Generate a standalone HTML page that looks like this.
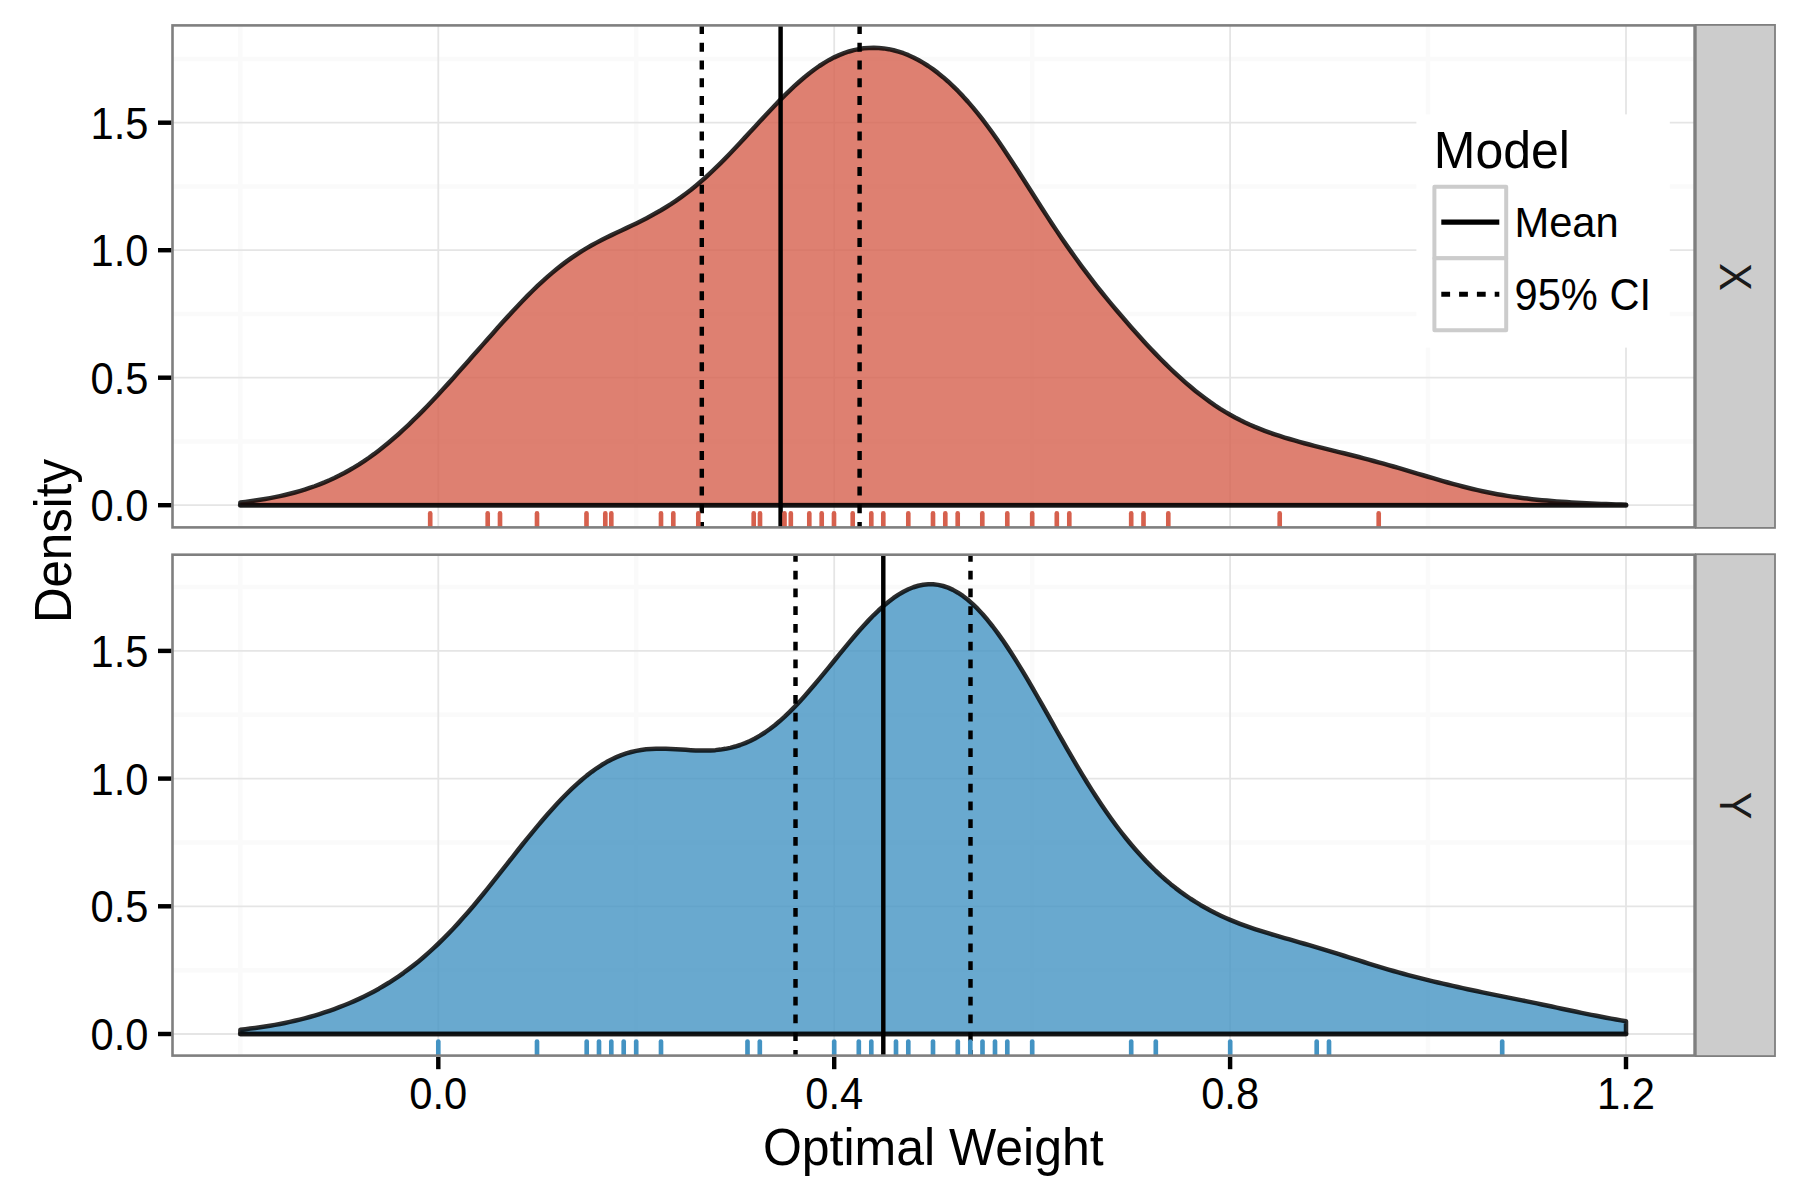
<!DOCTYPE html>
<html lang="en"><head><meta charset="utf-8"><title>Optimal Weight Density</title>
<style>html,body{margin:0;padding:0;background:#fff}svg{display:block}text{font-family:"Liberation Sans",Arial,Helvetica,sans-serif;fill:#000}</style></head><body>
<svg width="1800" height="1200" viewBox="0 0 1800 1200">
<rect width="1800" height="1200" fill="#fff"/>
<g>
<clipPath id="cp1"><rect x="172.5" y="25.4" width="1522.1" height="502"/></clipPath>
<g clip-path="url(#cp1)">
<line x1="172.5" x2="1694.6" y1="441.45" y2="441.45" stroke="#fafafa" stroke-width="4.45"/>
<line x1="172.5" x2="1694.6" y1="313.95" y2="313.95" stroke="#fafafa" stroke-width="4.45"/>
<line x1="172.5" x2="1694.6" y1="186.45" y2="186.45" stroke="#fafafa" stroke-width="4.45"/>
<line x1="172.5" x2="1694.6" y1="58.95" y2="58.95" stroke="#fafafa" stroke-width="4.45"/>
<line x1="240.35" x2="240.35" y1="25.4" y2="527.4" stroke="#fafafa" stroke-width="4.45"/>
<line x1="636.25" x2="636.25" y1="25.4" y2="527.4" stroke="#fafafa" stroke-width="4.45"/>
<line x1="1032.15" x2="1032.15" y1="25.4" y2="527.4" stroke="#fafafa" stroke-width="4.45"/>
<line x1="1428.05" x2="1428.05" y1="25.4" y2="527.4" stroke="#fafafa" stroke-width="4.45"/>
<line x1="172.5" x2="1694.6" y1="505.2" y2="505.2" stroke="#e5e5e5" stroke-width="1.8"/>
<line x1="172.5" x2="1694.6" y1="377.7" y2="377.7" stroke="#e5e5e5" stroke-width="1.8"/>
<line x1="172.5" x2="1694.6" y1="250.2" y2="250.2" stroke="#e5e5e5" stroke-width="1.8"/>
<line x1="172.5" x2="1694.6" y1="122.7" y2="122.7" stroke="#e5e5e5" stroke-width="1.8"/>
<line x1="438.3" x2="438.3" y1="25.4" y2="527.4" stroke="#e5e5e5" stroke-width="1.8"/>
<line x1="834.2" x2="834.2" y1="25.4" y2="527.4" stroke="#e5e5e5" stroke-width="1.8"/>
<line x1="1230.1" x2="1230.1" y1="25.4" y2="527.4" stroke="#e5e5e5" stroke-width="1.8"/>
<line x1="1626" x2="1626" y1="25.4" y2="527.4" stroke="#e5e5e5" stroke-width="1.8"/>
<path d="M240.35,505.2 L240.35,502.52 L245.3,501.93 L250.25,501.28 L255.2,500.58 L260.14,499.81 L265.09,498.98 L270.04,498.09 L274.99,497.12 L279.94,496.08 L284.89,494.97 L289.84,493.77 L294.79,492.47 L299.74,491.08 L304.68,489.59 L309.63,487.98 L314.58,486.25 L319.53,484.39 L324.48,482.41 L329.43,480.29 L334.38,478.02 L339.32,475.6 L344.27,473.03 L349.22,470.3 L354.17,467.41 L359.12,464.36 L364.07,461.14 L369.02,457.75 L373.97,454.19 L378.92,450.46 L383.86,446.57 L388.81,442.52 L393.76,438.3 L398.71,433.94 L403.66,429.43 L408.61,424.77 L413.56,419.99 L418.5,415.09 L423.45,410.07 L428.4,404.95 L433.35,399.73 L438.3,394.43 L443.25,389.07 L448.2,383.63 L453.15,378.15 L458.1,372.62 L463.04,367.06 L467.99,361.47 L472.94,355.86 L477.89,350.24 L482.84,344.62 L487.79,339 L492.74,333.41 L497.69,327.85 L502.63,322.33 L507.58,316.87 L512.53,311.49 L517.48,306.19 L522.43,301 L527.38,295.93 L532.33,291 L537.27,286.21 L542.22,281.58 L547.17,277.12 L552.12,272.85 L557.07,268.75 L562.02,264.86 L566.97,261.15 L571.92,257.63 L576.87,254.3 L581.81,251.14 L586.76,248.15 L591.71,245.32 L596.66,242.62 L601.61,240.04 L606.56,237.55 L611.51,235.14 L616.46,232.79 L621.4,230.46 L626.35,228.13 L631.3,225.79 L636.25,223.41 L641.2,220.97 L646.15,218.44 L651.1,215.82 L656.04,213.08 L660.99,210.23 L665.94,207.23 L670.89,204.1 L675.84,200.81 L680.79,197.36 L685.74,193.74 L690.69,189.95 L695.63,185.97 L700.58,181.81 L705.53,177.46 L710.48,172.92 L715.43,168.22 L720.38,163.36 L725.33,158.36 L730.28,153.24 L735.23,148.02 L740.17,142.74 L745.12,137.4 L750.07,132.04 L755.02,126.67 L759.97,121.31 L764.92,115.99 L769.87,110.71 L774.82,105.52 L779.76,100.41 L784.71,95.43 L789.66,90.6 L794.61,85.93 L799.56,81.46 L804.51,77.22 L809.46,73.21 L814.4,69.47 L819.35,66 L824.3,62.82 L829.25,59.93 L834.2,57.35 L839.15,55.08 L844.1,53.12 L849.05,51.46 L854,50.12 L858.94,49.08 L863.89,48.34 L868.84,47.9 L873.79,47.77 L878.74,47.93 L883.69,48.4 L888.64,49.16 L893.59,50.22 L898.53,51.58 L903.48,53.23 L908.43,55.19 L913.38,57.44 L918.33,59.99 L923.28,62.84 L928.23,65.98 L933.17,69.41 L938.12,73.14 L943.07,77.16 L948.02,81.47 L952.97,86.08 L957.92,90.97 L962.87,96.15 L967.82,101.62 L972.77,107.38 L977.71,113.4 L982.66,119.7 L987.61,126.25 L992.56,133.05 L997.51,140.06 L1002.46,147.27 L1007.41,154.66 L1012.36,162.18 L1017.3,169.82 L1022.25,177.53 L1027.2,185.29 L1032.15,193.06 L1037.1,200.81 L1042.05,208.51 L1047,216.15 L1051.95,223.69 L1056.89,231.13 L1061.84,238.44 L1066.79,245.62 L1071.74,252.66 L1076.69,259.56 L1081.64,266.32 L1086.59,272.94 L1091.53,279.42 L1096.48,285.76 L1101.43,291.98 L1106.38,298.08 L1111.33,304.07 L1116.28,309.97 L1121.23,315.78 L1126.18,321.51 L1131.12,327.17 L1136.07,332.74 L1141.02,338.24 L1145.97,343.65 L1150.92,348.96 L1155.87,354.16 L1160.82,359.24 L1165.77,364.19 L1170.71,369 L1175.66,373.68 L1180.61,378.21 L1185.56,382.59 L1190.51,386.82 L1195.46,390.9 L1200.41,394.82 L1205.36,398.57 L1210.31,402.16 L1215.25,405.57 L1220.2,408.82 L1225.15,411.89 L1230.1,414.79 L1235.05,417.53 L1240,420.1 L1244.95,422.52 L1249.89,424.79 L1254.84,426.93 L1259.79,428.94 L1264.74,430.84 L1269.69,432.64 L1274.64,434.34 L1279.59,435.97 L1284.54,437.53 L1289.49,439.02 L1294.43,440.46 L1299.38,441.86 L1304.33,443.22 L1309.28,444.54 L1314.23,445.83 L1319.18,447.1 L1324.13,448.36 L1329.08,449.6 L1334.02,450.83 L1338.97,452.06 L1343.92,453.29 L1348.87,454.53 L1353.82,455.78 L1358.77,457.05 L1363.72,458.33 L1368.67,459.64 L1373.61,460.96 L1378.56,462.31 L1383.51,463.68 L1388.46,465.07 L1393.41,466.49 L1398.36,467.92 L1403.31,469.37 L1408.25,470.84 L1413.2,472.31 L1418.15,473.79 L1423.1,475.27 L1428.05,476.75 L1433,478.21 L1437.95,479.66 L1442.9,481.09 L1447.85,482.49 L1452.79,483.86 L1457.74,485.2 L1462.69,486.5 L1467.64,487.75 L1472.59,488.95 L1477.54,490.1 L1482.49,491.2 L1487.43,492.25 L1492.38,493.24 L1497.33,494.17 L1502.28,495.04 L1507.23,495.86 L1512.18,496.62 L1517.13,497.33 L1522.08,497.99 L1527.03,498.6 L1531.97,499.16 L1536.92,499.68 L1541.87,500.16 L1546.82,500.6 L1551.77,501.01 L1556.72,501.39 L1561.67,501.75 L1566.62,502.09 L1571.56,502.41 L1576.51,502.71 L1581.46,502.99 L1586.41,503.25 L1591.36,503.49 L1596.31,503.72 L1601.26,503.93 L1606.21,504.12 L1611.15,504.29 L1616.1,504.44 L1621.05,504.57 L1626,504.69 L1626,505.2 Z" fill="#D6604D" fill-opacity="0.8" stroke="none"/>
<path d="M240.35,505.2 L240.35,502.52 L245.3,501.93 L250.25,501.28 L255.2,500.58 L260.14,499.81 L265.09,498.98 L270.04,498.09 L274.99,497.12 L279.94,496.08 L284.89,494.97 L289.84,493.77 L294.79,492.47 L299.74,491.08 L304.68,489.59 L309.63,487.98 L314.58,486.25 L319.53,484.39 L324.48,482.41 L329.43,480.29 L334.38,478.02 L339.32,475.6 L344.27,473.03 L349.22,470.3 L354.17,467.41 L359.12,464.36 L364.07,461.14 L369.02,457.75 L373.97,454.19 L378.92,450.46 L383.86,446.57 L388.81,442.52 L393.76,438.3 L398.71,433.94 L403.66,429.43 L408.61,424.77 L413.56,419.99 L418.5,415.09 L423.45,410.07 L428.4,404.95 L433.35,399.73 L438.3,394.43 L443.25,389.07 L448.2,383.63 L453.15,378.15 L458.1,372.62 L463.04,367.06 L467.99,361.47 L472.94,355.86 L477.89,350.24 L482.84,344.62 L487.79,339 L492.74,333.41 L497.69,327.85 L502.63,322.33 L507.58,316.87 L512.53,311.49 L517.48,306.19 L522.43,301 L527.38,295.93 L532.33,291 L537.27,286.21 L542.22,281.58 L547.17,277.12 L552.12,272.85 L557.07,268.75 L562.02,264.86 L566.97,261.15 L571.92,257.63 L576.87,254.3 L581.81,251.14 L586.76,248.15 L591.71,245.32 L596.66,242.62 L601.61,240.04 L606.56,237.55 L611.51,235.14 L616.46,232.79 L621.4,230.46 L626.35,228.13 L631.3,225.79 L636.25,223.41 L641.2,220.97 L646.15,218.44 L651.1,215.82 L656.04,213.08 L660.99,210.23 L665.94,207.23 L670.89,204.1 L675.84,200.81 L680.79,197.36 L685.74,193.74 L690.69,189.95 L695.63,185.97 L700.58,181.81 L705.53,177.46 L710.48,172.92 L715.43,168.22 L720.38,163.36 L725.33,158.36 L730.28,153.24 L735.23,148.02 L740.17,142.74 L745.12,137.4 L750.07,132.04 L755.02,126.67 L759.97,121.31 L764.92,115.99 L769.87,110.71 L774.82,105.52 L779.76,100.41 L784.71,95.43 L789.66,90.6 L794.61,85.93 L799.56,81.46 L804.51,77.22 L809.46,73.21 L814.4,69.47 L819.35,66 L824.3,62.82 L829.25,59.93 L834.2,57.35 L839.15,55.08 L844.1,53.12 L849.05,51.46 L854,50.12 L858.94,49.08 L863.89,48.34 L868.84,47.9 L873.79,47.77 L878.74,47.93 L883.69,48.4 L888.64,49.16 L893.59,50.22 L898.53,51.58 L903.48,53.23 L908.43,55.19 L913.38,57.44 L918.33,59.99 L923.28,62.84 L928.23,65.98 L933.17,69.41 L938.12,73.14 L943.07,77.16 L948.02,81.47 L952.97,86.08 L957.92,90.97 L962.87,96.15 L967.82,101.62 L972.77,107.38 L977.71,113.4 L982.66,119.7 L987.61,126.25 L992.56,133.05 L997.51,140.06 L1002.46,147.27 L1007.41,154.66 L1012.36,162.18 L1017.3,169.82 L1022.25,177.53 L1027.2,185.29 L1032.15,193.06 L1037.1,200.81 L1042.05,208.51 L1047,216.15 L1051.95,223.69 L1056.89,231.13 L1061.84,238.44 L1066.79,245.62 L1071.74,252.66 L1076.69,259.56 L1081.64,266.32 L1086.59,272.94 L1091.53,279.42 L1096.48,285.76 L1101.43,291.98 L1106.38,298.08 L1111.33,304.07 L1116.28,309.97 L1121.23,315.78 L1126.18,321.51 L1131.12,327.17 L1136.07,332.74 L1141.02,338.24 L1145.97,343.65 L1150.92,348.96 L1155.87,354.16 L1160.82,359.24 L1165.77,364.19 L1170.71,369 L1175.66,373.68 L1180.61,378.21 L1185.56,382.59 L1190.51,386.82 L1195.46,390.9 L1200.41,394.82 L1205.36,398.57 L1210.31,402.16 L1215.25,405.57 L1220.2,408.82 L1225.15,411.89 L1230.1,414.79 L1235.05,417.53 L1240,420.1 L1244.95,422.52 L1249.89,424.79 L1254.84,426.93 L1259.79,428.94 L1264.74,430.84 L1269.69,432.64 L1274.64,434.34 L1279.59,435.97 L1284.54,437.53 L1289.49,439.02 L1294.43,440.46 L1299.38,441.86 L1304.33,443.22 L1309.28,444.54 L1314.23,445.83 L1319.18,447.1 L1324.13,448.36 L1329.08,449.6 L1334.02,450.83 L1338.97,452.06 L1343.92,453.29 L1348.87,454.53 L1353.82,455.78 L1358.77,457.05 L1363.72,458.33 L1368.67,459.64 L1373.61,460.96 L1378.56,462.31 L1383.51,463.68 L1388.46,465.07 L1393.41,466.49 L1398.36,467.92 L1403.31,469.37 L1408.25,470.84 L1413.2,472.31 L1418.15,473.79 L1423.1,475.27 L1428.05,476.75 L1433,478.21 L1437.95,479.66 L1442.9,481.09 L1447.85,482.49 L1452.79,483.86 L1457.74,485.2 L1462.69,486.5 L1467.64,487.75 L1472.59,488.95 L1477.54,490.1 L1482.49,491.2 L1487.43,492.25 L1492.38,493.24 L1497.33,494.17 L1502.28,495.04 L1507.23,495.86 L1512.18,496.62 L1517.13,497.33 L1522.08,497.99 L1527.03,498.6 L1531.97,499.16 L1536.92,499.68 L1541.87,500.16 L1546.82,500.6 L1551.77,501.01 L1556.72,501.39 L1561.67,501.75 L1566.62,502.09 L1571.56,502.41 L1576.51,502.71 L1581.46,502.99 L1586.41,503.25 L1591.36,503.49 L1596.31,503.72 L1601.26,503.93 L1606.21,504.12 L1611.15,504.29 L1616.1,504.44 L1621.05,504.57 L1626,504.69 L1626,505.2 Z" fill="none" stroke="#000" stroke-opacity="0.82" stroke-width="4.5" stroke-linejoin="round" stroke-linecap="round"/>
<line x1="240.35" x2="1626" y1="505.3" y2="505.3" stroke="#000" stroke-opacity="0.5" stroke-width="5.0" stroke-linecap="round"/>
<line x1="701.8" x2="701.8" y1="25.1" y2="547.4" stroke="#000" stroke-width="4.45" stroke-dasharray="8.8 8.95"/>
<line x1="859.6" x2="859.6" y1="25.1" y2="547.4" stroke="#000" stroke-width="4.45" stroke-dasharray="8.8 8.95"/>
<line x1="780.6" x2="780.6" y1="25.4" y2="527.4" stroke="#000" stroke-width="4.45"/>
<line x1="430.2" x2="430.2" y1="513.4" y2="530.4" stroke="#D6604D" stroke-width="4.65" stroke-linecap="round"/>
<line x1="487.7" x2="487.7" y1="513.4" y2="530.4" stroke="#D6604D" stroke-width="4.65" stroke-linecap="round"/>
<line x1="500" x2="500" y1="513.4" y2="530.4" stroke="#D6604D" stroke-width="4.65" stroke-linecap="round"/>
<line x1="537" x2="537" y1="513.4" y2="530.4" stroke="#D6604D" stroke-width="4.65" stroke-linecap="round"/>
<line x1="586.5" x2="586.5" y1="513.4" y2="530.4" stroke="#D6604D" stroke-width="4.65" stroke-linecap="round"/>
<line x1="605.3" x2="605.3" y1="513.4" y2="530.4" stroke="#D6604D" stroke-width="4.65" stroke-linecap="round"/>
<line x1="611.3" x2="611.3" y1="513.4" y2="530.4" stroke="#D6604D" stroke-width="4.65" stroke-linecap="round"/>
<line x1="661" x2="661" y1="513.4" y2="530.4" stroke="#D6604D" stroke-width="4.65" stroke-linecap="round"/>
<line x1="673.3" x2="673.3" y1="513.4" y2="530.4" stroke="#D6604D" stroke-width="4.65" stroke-linecap="round"/>
<line x1="698.3" x2="698.3" y1="513.4" y2="530.4" stroke="#D6604D" stroke-width="4.65" stroke-linecap="round"/>
<line x1="753.7" x2="753.7" y1="513.4" y2="530.4" stroke="#D6604D" stroke-width="4.65" stroke-linecap="round"/>
<line x1="760" x2="760" y1="513.4" y2="530.4" stroke="#D6604D" stroke-width="4.65" stroke-linecap="round"/>
<line x1="784.5" x2="784.5" y1="513.4" y2="530.4" stroke="#D6604D" stroke-width="4.65" stroke-linecap="round"/>
<line x1="790.8" x2="790.8" y1="513.4" y2="530.4" stroke="#D6604D" stroke-width="4.65" stroke-linecap="round"/>
<line x1="809.3" x2="809.3" y1="513.4" y2="530.4" stroke="#D6604D" stroke-width="4.65" stroke-linecap="round"/>
<line x1="821.7" x2="821.7" y1="513.4" y2="530.4" stroke="#D6604D" stroke-width="4.65" stroke-linecap="round"/>
<line x1="834" x2="834" y1="513.4" y2="530.4" stroke="#D6604D" stroke-width="4.65" stroke-linecap="round"/>
<line x1="852.7" x2="852.7" y1="513.4" y2="530.4" stroke="#D6604D" stroke-width="4.65" stroke-linecap="round"/>
<line x1="871.3" x2="871.3" y1="513.4" y2="530.4" stroke="#D6604D" stroke-width="4.65" stroke-linecap="round"/>
<line x1="883.3" x2="883.3" y1="513.4" y2="530.4" stroke="#D6604D" stroke-width="4.65" stroke-linecap="round"/>
<line x1="908.3" x2="908.3" y1="513.4" y2="530.4" stroke="#D6604D" stroke-width="4.65" stroke-linecap="round"/>
<line x1="933" x2="933" y1="513.4" y2="530.4" stroke="#D6604D" stroke-width="4.65" stroke-linecap="round"/>
<line x1="945.3" x2="945.3" y1="513.4" y2="530.4" stroke="#D6604D" stroke-width="4.65" stroke-linecap="round"/>
<line x1="957.7" x2="957.7" y1="513.4" y2="530.4" stroke="#D6604D" stroke-width="4.65" stroke-linecap="round"/>
<line x1="982.3" x2="982.3" y1="513.4" y2="530.4" stroke="#D6604D" stroke-width="4.65" stroke-linecap="round"/>
<line x1="1007.3" x2="1007.3" y1="513.4" y2="530.4" stroke="#D6604D" stroke-width="4.65" stroke-linecap="round"/>
<line x1="1032.2" x2="1032.2" y1="513.4" y2="530.4" stroke="#D6604D" stroke-width="4.65" stroke-linecap="round"/>
<line x1="1056.8" x2="1056.8" y1="513.4" y2="530.4" stroke="#D6604D" stroke-width="4.65" stroke-linecap="round"/>
<line x1="1069.3" x2="1069.3" y1="513.4" y2="530.4" stroke="#D6604D" stroke-width="4.65" stroke-linecap="round"/>
<line x1="1131.2" x2="1131.2" y1="513.4" y2="530.4" stroke="#D6604D" stroke-width="4.65" stroke-linecap="round"/>
<line x1="1143.5" x2="1143.5" y1="513.4" y2="530.4" stroke="#D6604D" stroke-width="4.65" stroke-linecap="round"/>
<line x1="1168.3" x2="1168.3" y1="513.4" y2="530.4" stroke="#D6604D" stroke-width="4.65" stroke-linecap="round"/>
<line x1="1279.7" x2="1279.7" y1="513.4" y2="530.4" stroke="#D6604D" stroke-width="4.65" stroke-linecap="round"/>
<line x1="1378.7" x2="1378.7" y1="513.4" y2="530.4" stroke="#D6604D" stroke-width="4.65" stroke-linecap="round"/>
</g>
<g>
<rect x="1416.4" y="114.4" width="253.4" height="233.2" fill="#fff"/>
<text transform="translate(1433.8,168) scale(1,1.03)" text-anchor="start" font-size="50">Model</text>
<rect x="1434.4" y="186.7" width="71.8" height="71.6" fill="#fff" stroke="#cccccc" stroke-width="4" stroke-linejoin="round"/>
<rect x="1434.4" y="258.3" width="71.8" height="72" fill="#fff" stroke="#cccccc" stroke-width="4" stroke-linejoin="round"/>
<line x1="1441.3" x2="1499.3" y1="222.2" y2="222.2" stroke="#000" stroke-width="5.3"/>
<line x1="1441.3" x2="1499.3" y1="294.2" y2="294.2" stroke="#000" stroke-width="4.9" stroke-dasharray="8.8 9"/>
<text transform="translate(1514.5,237) scale(1,1.03)" text-anchor="start" font-size="41.67">Mean</text>
<text transform="translate(1514.5,309.8) scale(1,1.055)" text-anchor="start" font-size="41.67">95% CI</text>
</g>
<rect x="172.5" y="25.4" width="1522.1" height="502" fill="none" stroke="#7f7f7f" stroke-width="2.6"/>
<rect x="1695.8" y="24.9" width="79.2" height="503" fill="#cccccc" stroke="#7f7f7f" stroke-width="1.8"/>
<text transform="translate(1720.2,276.9) rotate(90) scale(1,1.055)" text-anchor="middle" font-size="41.67" style="fill:#1a1a1a">X</text>
<line x1="158" x2="171.2" y1="505.2" y2="505.2" stroke="#000" stroke-width="4.45"/>
<text transform="translate(148.5,521.2) scale(1,1.055)" text-anchor="end" font-size="41.67">0.0</text>
<line x1="158" x2="171.2" y1="377.7" y2="377.7" stroke="#000" stroke-width="4.45"/>
<text transform="translate(148.5,393.7) scale(1,1.055)" text-anchor="end" font-size="41.67">0.5</text>
<line x1="158" x2="171.2" y1="250.2" y2="250.2" stroke="#000" stroke-width="4.45"/>
<text transform="translate(148.5,266.2) scale(1,1.055)" text-anchor="end" font-size="41.67">1.0</text>
<line x1="158" x2="171.2" y1="122.7" y2="122.7" stroke="#000" stroke-width="4.45"/>
<text transform="translate(148.5,138.7) scale(1,1.055)" text-anchor="end" font-size="41.67">1.5</text>
</g>
<g>
<clipPath id="cp2"><rect x="172.5" y="554.7" width="1522.1" height="500.9"/></clipPath>
<g clip-path="url(#cp2)">
<line x1="172.5" x2="1694.6" y1="970.15" y2="970.15" stroke="#fafafa" stroke-width="4.45"/>
<line x1="172.5" x2="1694.6" y1="842.45" y2="842.45" stroke="#fafafa" stroke-width="4.45"/>
<line x1="172.5" x2="1694.6" y1="714.75" y2="714.75" stroke="#fafafa" stroke-width="4.45"/>
<line x1="172.5" x2="1694.6" y1="587.05" y2="587.05" stroke="#fafafa" stroke-width="4.45"/>
<line x1="240.35" x2="240.35" y1="554.7" y2="1055.6" stroke="#fafafa" stroke-width="4.45"/>
<line x1="636.25" x2="636.25" y1="554.7" y2="1055.6" stroke="#fafafa" stroke-width="4.45"/>
<line x1="1032.15" x2="1032.15" y1="554.7" y2="1055.6" stroke="#fafafa" stroke-width="4.45"/>
<line x1="1428.05" x2="1428.05" y1="554.7" y2="1055.6" stroke="#fafafa" stroke-width="4.45"/>
<line x1="172.5" x2="1694.6" y1="1034" y2="1034" stroke="#e5e5e5" stroke-width="1.8"/>
<line x1="172.5" x2="1694.6" y1="906.3" y2="906.3" stroke="#e5e5e5" stroke-width="1.8"/>
<line x1="172.5" x2="1694.6" y1="778.6" y2="778.6" stroke="#e5e5e5" stroke-width="1.8"/>
<line x1="172.5" x2="1694.6" y1="650.9" y2="650.9" stroke="#e5e5e5" stroke-width="1.8"/>
<line x1="438.3" x2="438.3" y1="554.7" y2="1055.6" stroke="#e5e5e5" stroke-width="1.8"/>
<line x1="834.2" x2="834.2" y1="554.7" y2="1055.6" stroke="#e5e5e5" stroke-width="1.8"/>
<line x1="1230.1" x2="1230.1" y1="554.7" y2="1055.6" stroke="#e5e5e5" stroke-width="1.8"/>
<line x1="1626" x2="1626" y1="554.7" y2="1055.6" stroke="#e5e5e5" stroke-width="1.8"/>
<path d="M240.35,1034 L240.35,1029.77 L245.3,1029.21 L250.25,1028.6 L255.2,1027.95 L260.14,1027.26 L265.09,1026.51 L270.04,1025.71 L274.99,1024.85 L279.94,1023.93 L284.89,1022.95 L289.84,1021.9 L294.79,1020.78 L299.74,1019.59 L304.68,1018.32 L309.63,1016.98 L314.58,1015.56 L319.53,1014.06 L324.48,1012.48 L329.43,1010.82 L334.38,1009.06 L339.32,1007.22 L344.27,1005.28 L349.22,1003.24 L354.17,1001.1 L359.12,998.85 L364.07,996.49 L369.02,994.01 L373.97,991.4 L378.92,988.66 L383.86,985.78 L388.81,982.77 L393.76,979.6 L398.71,976.28 L403.66,972.81 L408.61,969.17 L413.56,965.36 L418.5,961.39 L423.45,957.24 L428.4,952.92 L433.35,948.42 L438.3,943.75 L443.25,938.9 L448.2,933.88 L453.15,928.7 L458.1,923.35 L463.04,917.85 L467.99,912.21 L472.94,906.43 L477.89,900.52 L482.84,894.51 L487.79,888.39 L492.74,882.2 L497.69,875.94 L502.63,869.64 L507.58,863.33 L512.53,857.03 L517.48,850.75 L522.43,844.52 L527.38,838.36 L532.33,832.3 L537.27,826.33 L542.22,820.49 L547.17,814.77 L552.12,809.21 L557.07,803.8 L562.02,798.57 L566.97,793.53 L571.92,788.7 L576.87,784.09 L581.81,779.73 L586.76,775.63 L591.71,771.8 L596.66,768.27 L601.61,765.03 L606.56,762.09 L611.51,759.47 L616.46,757.15 L621.4,755.14 L626.35,753.42 L631.3,752 L636.25,750.86 L641.2,749.97 L646.15,749.33 L651.1,748.92 L656.04,748.69 L660.99,748.64 L665.94,748.73 L670.89,748.93 L675.84,749.2 L680.79,749.52 L685.74,749.85 L690.69,750.16 L695.63,750.4 L700.58,750.56 L705.53,750.58 L710.48,750.44 L715.43,750.13 L720.38,749.6 L725.33,748.84 L730.28,747.83 L735.23,746.55 L740.17,744.99 L745.12,743.13 L750.07,740.96 L755.02,738.46 L759.97,735.64 L764.92,732.49 L769.87,729.01 L774.82,725.2 L779.76,721.07 L784.71,716.63 L789.66,711.91 L794.61,706.92 L799.56,701.69 L804.51,696.24 L809.46,690.61 L814.4,684.82 L819.35,678.9 L824.3,672.89 L829.25,666.82 L834.2,660.72 L839.15,654.63 L844.1,648.57 L849.05,642.59 L854,636.72 L858.94,630.99 L863.89,625.45 L868.84,620.12 L873.79,615.05 L878.74,610.26 L883.69,605.8 L888.64,601.68 L893.59,597.94 L898.53,594.61 L903.48,591.7 L908.43,589.23 L913.38,587.24 L918.33,585.73 L923.28,584.73 L928.23,584.24 L933.17,584.29 L938.12,584.87 L943.07,586 L948.02,587.67 L952.97,589.9 L957.92,592.66 L962.87,595.96 L967.82,599.79 L972.77,604.13 L977.71,608.97 L982.66,614.29 L987.61,620.07 L992.56,626.27 L997.51,632.87 L1002.46,639.83 L1007.41,647.13 L1012.36,654.73 L1017.3,662.59 L1022.25,670.68 L1027.2,678.97 L1032.15,687.42 L1037.1,696 L1042.05,704.68 L1047,713.43 L1051.95,722.2 L1056.89,730.98 L1061.84,739.71 L1066.79,748.37 L1071.74,756.93 L1076.69,765.36 L1081.64,773.63 L1086.59,781.73 L1091.53,789.63 L1096.48,797.32 L1101.43,804.78 L1106.38,812.01 L1111.33,819 L1116.28,825.74 L1121.23,832.24 L1126.18,838.49 L1131.12,844.5 L1136.07,850.27 L1141.02,855.8 L1145.97,861.1 L1150.92,866.16 L1155.87,870.99 L1160.82,875.6 L1165.77,879.98 L1170.71,884.14 L1175.66,888.09 L1180.61,891.84 L1185.56,895.39 L1190.51,898.74 L1195.46,901.92 L1200.41,904.93 L1205.36,907.77 L1210.31,910.46 L1215.25,913.01 L1220.2,915.41 L1225.15,917.69 L1230.1,919.84 L1235.05,921.87 L1240,923.8 L1244.95,925.63 L1249.89,927.37 L1254.84,929.03 L1259.79,930.63 L1264.74,932.18 L1269.69,933.69 L1274.64,935.16 L1279.59,936.6 L1284.54,938.04 L1289.49,939.46 L1294.43,940.88 L1299.38,942.3 L1304.33,943.73 L1309.28,945.17 L1314.23,946.63 L1319.18,948.1 L1324.13,949.59 L1329.08,951.11 L1334.02,952.64 L1338.97,954.19 L1343.92,955.75 L1348.87,957.32 L1353.82,958.89 L1358.77,960.46 L1363.72,962.02 L1368.67,963.57 L1373.61,965.1 L1378.56,966.62 L1383.51,968.1 L1388.46,969.57 L1393.41,971 L1398.36,972.4 L1403.31,973.77 L1408.25,975.1 L1413.2,976.41 L1418.15,977.68 L1423.1,978.92 L1428.05,980.13 L1433,981.32 L1437.95,982.48 L1442.9,983.63 L1447.85,984.77 L1452.79,985.89 L1457.74,987 L1462.69,988.1 L1467.64,989.19 L1472.59,990.26 L1477.54,991.31 L1482.49,992.35 L1487.43,993.37 L1492.38,994.38 L1497.33,995.38 L1502.28,996.37 L1507.23,997.36 L1512.18,998.35 L1517.13,999.35 L1522.08,1000.35 L1527.03,1001.36 L1531.97,1002.39 L1536.92,1003.42 L1541.87,1004.46 L1546.82,1005.51 L1551.77,1006.57 L1556.72,1007.63 L1561.67,1008.68 L1566.62,1009.74 L1571.56,1010.78 L1576.51,1011.82 L1581.46,1012.84 L1586.41,1013.85 L1591.36,1014.85 L1596.31,1015.83 L1601.26,1016.79 L1606.21,1017.73 L1611.15,1018.64 L1616.1,1019.54 L1621.05,1020.4 L1626,1021.24 L1626,1034 Z" fill="#4393C3" fill-opacity="0.8" stroke="none"/>
<path d="M240.35,1034 L240.35,1029.77 L245.3,1029.21 L250.25,1028.6 L255.2,1027.95 L260.14,1027.26 L265.09,1026.51 L270.04,1025.71 L274.99,1024.85 L279.94,1023.93 L284.89,1022.95 L289.84,1021.9 L294.79,1020.78 L299.74,1019.59 L304.68,1018.32 L309.63,1016.98 L314.58,1015.56 L319.53,1014.06 L324.48,1012.48 L329.43,1010.82 L334.38,1009.06 L339.32,1007.22 L344.27,1005.28 L349.22,1003.24 L354.17,1001.1 L359.12,998.85 L364.07,996.49 L369.02,994.01 L373.97,991.4 L378.92,988.66 L383.86,985.78 L388.81,982.77 L393.76,979.6 L398.71,976.28 L403.66,972.81 L408.61,969.17 L413.56,965.36 L418.5,961.39 L423.45,957.24 L428.4,952.92 L433.35,948.42 L438.3,943.75 L443.25,938.9 L448.2,933.88 L453.15,928.7 L458.1,923.35 L463.04,917.85 L467.99,912.21 L472.94,906.43 L477.89,900.52 L482.84,894.51 L487.79,888.39 L492.74,882.2 L497.69,875.94 L502.63,869.64 L507.58,863.33 L512.53,857.03 L517.48,850.75 L522.43,844.52 L527.38,838.36 L532.33,832.3 L537.27,826.33 L542.22,820.49 L547.17,814.77 L552.12,809.21 L557.07,803.8 L562.02,798.57 L566.97,793.53 L571.92,788.7 L576.87,784.09 L581.81,779.73 L586.76,775.63 L591.71,771.8 L596.66,768.27 L601.61,765.03 L606.56,762.09 L611.51,759.47 L616.46,757.15 L621.4,755.14 L626.35,753.42 L631.3,752 L636.25,750.86 L641.2,749.97 L646.15,749.33 L651.1,748.92 L656.04,748.69 L660.99,748.64 L665.94,748.73 L670.89,748.93 L675.84,749.2 L680.79,749.52 L685.74,749.85 L690.69,750.16 L695.63,750.4 L700.58,750.56 L705.53,750.58 L710.48,750.44 L715.43,750.13 L720.38,749.6 L725.33,748.84 L730.28,747.83 L735.23,746.55 L740.17,744.99 L745.12,743.13 L750.07,740.96 L755.02,738.46 L759.97,735.64 L764.92,732.49 L769.87,729.01 L774.82,725.2 L779.76,721.07 L784.71,716.63 L789.66,711.91 L794.61,706.92 L799.56,701.69 L804.51,696.24 L809.46,690.61 L814.4,684.82 L819.35,678.9 L824.3,672.89 L829.25,666.82 L834.2,660.72 L839.15,654.63 L844.1,648.57 L849.05,642.59 L854,636.72 L858.94,630.99 L863.89,625.45 L868.84,620.12 L873.79,615.05 L878.74,610.26 L883.69,605.8 L888.64,601.68 L893.59,597.94 L898.53,594.61 L903.48,591.7 L908.43,589.23 L913.38,587.24 L918.33,585.73 L923.28,584.73 L928.23,584.24 L933.17,584.29 L938.12,584.87 L943.07,586 L948.02,587.67 L952.97,589.9 L957.92,592.66 L962.87,595.96 L967.82,599.79 L972.77,604.13 L977.71,608.97 L982.66,614.29 L987.61,620.07 L992.56,626.27 L997.51,632.87 L1002.46,639.83 L1007.41,647.13 L1012.36,654.73 L1017.3,662.59 L1022.25,670.68 L1027.2,678.97 L1032.15,687.42 L1037.1,696 L1042.05,704.68 L1047,713.43 L1051.95,722.2 L1056.89,730.98 L1061.84,739.71 L1066.79,748.37 L1071.74,756.93 L1076.69,765.36 L1081.64,773.63 L1086.59,781.73 L1091.53,789.63 L1096.48,797.32 L1101.43,804.78 L1106.38,812.01 L1111.33,819 L1116.28,825.74 L1121.23,832.24 L1126.18,838.49 L1131.12,844.5 L1136.07,850.27 L1141.02,855.8 L1145.97,861.1 L1150.92,866.16 L1155.87,870.99 L1160.82,875.6 L1165.77,879.98 L1170.71,884.14 L1175.66,888.09 L1180.61,891.84 L1185.56,895.39 L1190.51,898.74 L1195.46,901.92 L1200.41,904.93 L1205.36,907.77 L1210.31,910.46 L1215.25,913.01 L1220.2,915.41 L1225.15,917.69 L1230.1,919.84 L1235.05,921.87 L1240,923.8 L1244.95,925.63 L1249.89,927.37 L1254.84,929.03 L1259.79,930.63 L1264.74,932.18 L1269.69,933.69 L1274.64,935.16 L1279.59,936.6 L1284.54,938.04 L1289.49,939.46 L1294.43,940.88 L1299.38,942.3 L1304.33,943.73 L1309.28,945.17 L1314.23,946.63 L1319.18,948.1 L1324.13,949.59 L1329.08,951.11 L1334.02,952.64 L1338.97,954.19 L1343.92,955.75 L1348.87,957.32 L1353.82,958.89 L1358.77,960.46 L1363.72,962.02 L1368.67,963.57 L1373.61,965.1 L1378.56,966.62 L1383.51,968.1 L1388.46,969.57 L1393.41,971 L1398.36,972.4 L1403.31,973.77 L1408.25,975.1 L1413.2,976.41 L1418.15,977.68 L1423.1,978.92 L1428.05,980.13 L1433,981.32 L1437.95,982.48 L1442.9,983.63 L1447.85,984.77 L1452.79,985.89 L1457.74,987 L1462.69,988.1 L1467.64,989.19 L1472.59,990.26 L1477.54,991.31 L1482.49,992.35 L1487.43,993.37 L1492.38,994.38 L1497.33,995.38 L1502.28,996.37 L1507.23,997.36 L1512.18,998.35 L1517.13,999.35 L1522.08,1000.35 L1527.03,1001.36 L1531.97,1002.39 L1536.92,1003.42 L1541.87,1004.46 L1546.82,1005.51 L1551.77,1006.57 L1556.72,1007.63 L1561.67,1008.68 L1566.62,1009.74 L1571.56,1010.78 L1576.51,1011.82 L1581.46,1012.84 L1586.41,1013.85 L1591.36,1014.85 L1596.31,1015.83 L1601.26,1016.79 L1606.21,1017.73 L1611.15,1018.64 L1616.1,1019.54 L1621.05,1020.4 L1626,1021.24 L1626,1034 Z" fill="none" stroke="#000" stroke-opacity="0.82" stroke-width="4.5" stroke-linejoin="round" stroke-linecap="round"/>
<line x1="240.35" x2="1626" y1="1034.1" y2="1034.1" stroke="#000" stroke-opacity="0.5" stroke-width="5.0" stroke-linecap="round"/>
<line x1="795.5" x2="795.5" y1="553" y2="1075.6" stroke="#000" stroke-width="4.45" stroke-dasharray="8.8 8.95"/>
<line x1="970.5" x2="970.5" y1="553" y2="1075.6" stroke="#000" stroke-width="4.45" stroke-dasharray="8.8 8.95"/>
<line x1="883.3" x2="883.3" y1="554.7" y2="1055.6" stroke="#000" stroke-width="4.45"/>
<line x1="438.3" x2="438.3" y1="1041.6" y2="1058.6" stroke="#4393C3" stroke-width="4.65" stroke-linecap="round"/>
<line x1="537" x2="537" y1="1041.6" y2="1058.6" stroke="#4393C3" stroke-width="4.65" stroke-linecap="round"/>
<line x1="586.7" x2="586.7" y1="1041.6" y2="1058.6" stroke="#4393C3" stroke-width="4.65" stroke-linecap="round"/>
<line x1="599" x2="599" y1="1041.6" y2="1058.6" stroke="#4393C3" stroke-width="4.65" stroke-linecap="round"/>
<line x1="611.3" x2="611.3" y1="1041.6" y2="1058.6" stroke="#4393C3" stroke-width="4.65" stroke-linecap="round"/>
<line x1="623.7" x2="623.7" y1="1041.6" y2="1058.6" stroke="#4393C3" stroke-width="4.65" stroke-linecap="round"/>
<line x1="636.2" x2="636.2" y1="1041.6" y2="1058.6" stroke="#4393C3" stroke-width="4.65" stroke-linecap="round"/>
<line x1="661" x2="661" y1="1041.6" y2="1058.6" stroke="#4393C3" stroke-width="4.65" stroke-linecap="round"/>
<line x1="747.5" x2="747.5" y1="1041.6" y2="1058.6" stroke="#4393C3" stroke-width="4.65" stroke-linecap="round"/>
<line x1="759.8" x2="759.8" y1="1041.6" y2="1058.6" stroke="#4393C3" stroke-width="4.65" stroke-linecap="round"/>
<line x1="834.2" x2="834.2" y1="1041.6" y2="1058.6" stroke="#4393C3" stroke-width="4.65" stroke-linecap="round"/>
<line x1="858.8" x2="858.8" y1="1041.6" y2="1058.6" stroke="#4393C3" stroke-width="4.65" stroke-linecap="round"/>
<line x1="871.3" x2="871.3" y1="1041.6" y2="1058.6" stroke="#4393C3" stroke-width="4.65" stroke-linecap="round"/>
<line x1="896" x2="896" y1="1041.6" y2="1058.6" stroke="#4393C3" stroke-width="4.65" stroke-linecap="round"/>
<line x1="908.3" x2="908.3" y1="1041.6" y2="1058.6" stroke="#4393C3" stroke-width="4.65" stroke-linecap="round"/>
<line x1="933" x2="933" y1="1041.6" y2="1058.6" stroke="#4393C3" stroke-width="4.65" stroke-linecap="round"/>
<line x1="957.8" x2="957.8" y1="1041.6" y2="1058.6" stroke="#4393C3" stroke-width="4.65" stroke-linecap="round"/>
<line x1="970.3" x2="970.3" y1="1041.6" y2="1058.6" stroke="#4393C3" stroke-width="4.65" stroke-linecap="round"/>
<line x1="982.5" x2="982.5" y1="1041.6" y2="1058.6" stroke="#4393C3" stroke-width="4.65" stroke-linecap="round"/>
<line x1="995" x2="995" y1="1041.6" y2="1058.6" stroke="#4393C3" stroke-width="4.65" stroke-linecap="round"/>
<line x1="1007.3" x2="1007.3" y1="1041.6" y2="1058.6" stroke="#4393C3" stroke-width="4.65" stroke-linecap="round"/>
<line x1="1032.2" x2="1032.2" y1="1041.6" y2="1058.6" stroke="#4393C3" stroke-width="4.65" stroke-linecap="round"/>
<line x1="1131.2" x2="1131.2" y1="1041.6" y2="1058.6" stroke="#4393C3" stroke-width="4.65" stroke-linecap="round"/>
<line x1="1155.8" x2="1155.8" y1="1041.6" y2="1058.6" stroke="#4393C3" stroke-width="4.65" stroke-linecap="round"/>
<line x1="1230.2" x2="1230.2" y1="1041.6" y2="1058.6" stroke="#4393C3" stroke-width="4.65" stroke-linecap="round"/>
<line x1="1316.7" x2="1316.7" y1="1041.6" y2="1058.6" stroke="#4393C3" stroke-width="4.65" stroke-linecap="round"/>
<line x1="1329" x2="1329" y1="1041.6" y2="1058.6" stroke="#4393C3" stroke-width="4.65" stroke-linecap="round"/>
<line x1="1502.2" x2="1502.2" y1="1041.6" y2="1058.6" stroke="#4393C3" stroke-width="4.65" stroke-linecap="round"/>
</g>
<rect x="172.5" y="554.7" width="1522.1" height="500.9" fill="none" stroke="#7f7f7f" stroke-width="2.6"/>
<rect x="1695.8" y="554.2" width="79.2" height="501.9" fill="#cccccc" stroke="#7f7f7f" stroke-width="1.8"/>
<text transform="translate(1720.2,805.65) rotate(90) scale(1,1.055)" text-anchor="middle" font-size="41.67" style="fill:#1a1a1a">Y</text>
<line x1="158" x2="171.2" y1="1034" y2="1034" stroke="#000" stroke-width="4.45"/>
<text transform="translate(148.5,1050) scale(1,1.055)" text-anchor="end" font-size="41.67">0.0</text>
<line x1="158" x2="171.2" y1="906.3" y2="906.3" stroke="#000" stroke-width="4.45"/>
<text transform="translate(148.5,922.3) scale(1,1.055)" text-anchor="end" font-size="41.67">0.5</text>
<line x1="158" x2="171.2" y1="778.6" y2="778.6" stroke="#000" stroke-width="4.45"/>
<text transform="translate(148.5,794.6) scale(1,1.055)" text-anchor="end" font-size="41.67">1.0</text>
<line x1="158" x2="171.2" y1="650.9" y2="650.9" stroke="#000" stroke-width="4.45"/>
<text transform="translate(148.5,666.9) scale(1,1.055)" text-anchor="end" font-size="41.67">1.5</text>
</g>
<line x1="438.3" x2="438.3" y1="1057" y2="1069.2" stroke="#000" stroke-width="4.45"/>
<text transform="translate(438.3,1108.5) scale(1,1.055)" text-anchor="middle" font-size="41.67">0.0</text>
<line x1="834.2" x2="834.2" y1="1057" y2="1069.2" stroke="#000" stroke-width="4.45"/>
<text transform="translate(834.2,1108.5) scale(1,1.055)" text-anchor="middle" font-size="41.67">0.4</text>
<line x1="1230.1" x2="1230.1" y1="1057" y2="1069.2" stroke="#000" stroke-width="4.45"/>
<text transform="translate(1230.1,1108.5) scale(1,1.055)" text-anchor="middle" font-size="41.67">0.8</text>
<line x1="1626" x2="1626" y1="1057" y2="1069.2" stroke="#000" stroke-width="4.45"/>
<text transform="translate(1626,1108.5) scale(1,1.055)" text-anchor="middle" font-size="41.67">1.2</text>
<text transform="translate(933.3,1164.9) scale(1,1.03)" text-anchor="middle" font-size="50">Optimal Weight</text>
<text transform="translate(71.1,541) rotate(-90) scale(0.985,1.03)" text-anchor="middle" font-size="50">Density</text>
</svg></body></html>
